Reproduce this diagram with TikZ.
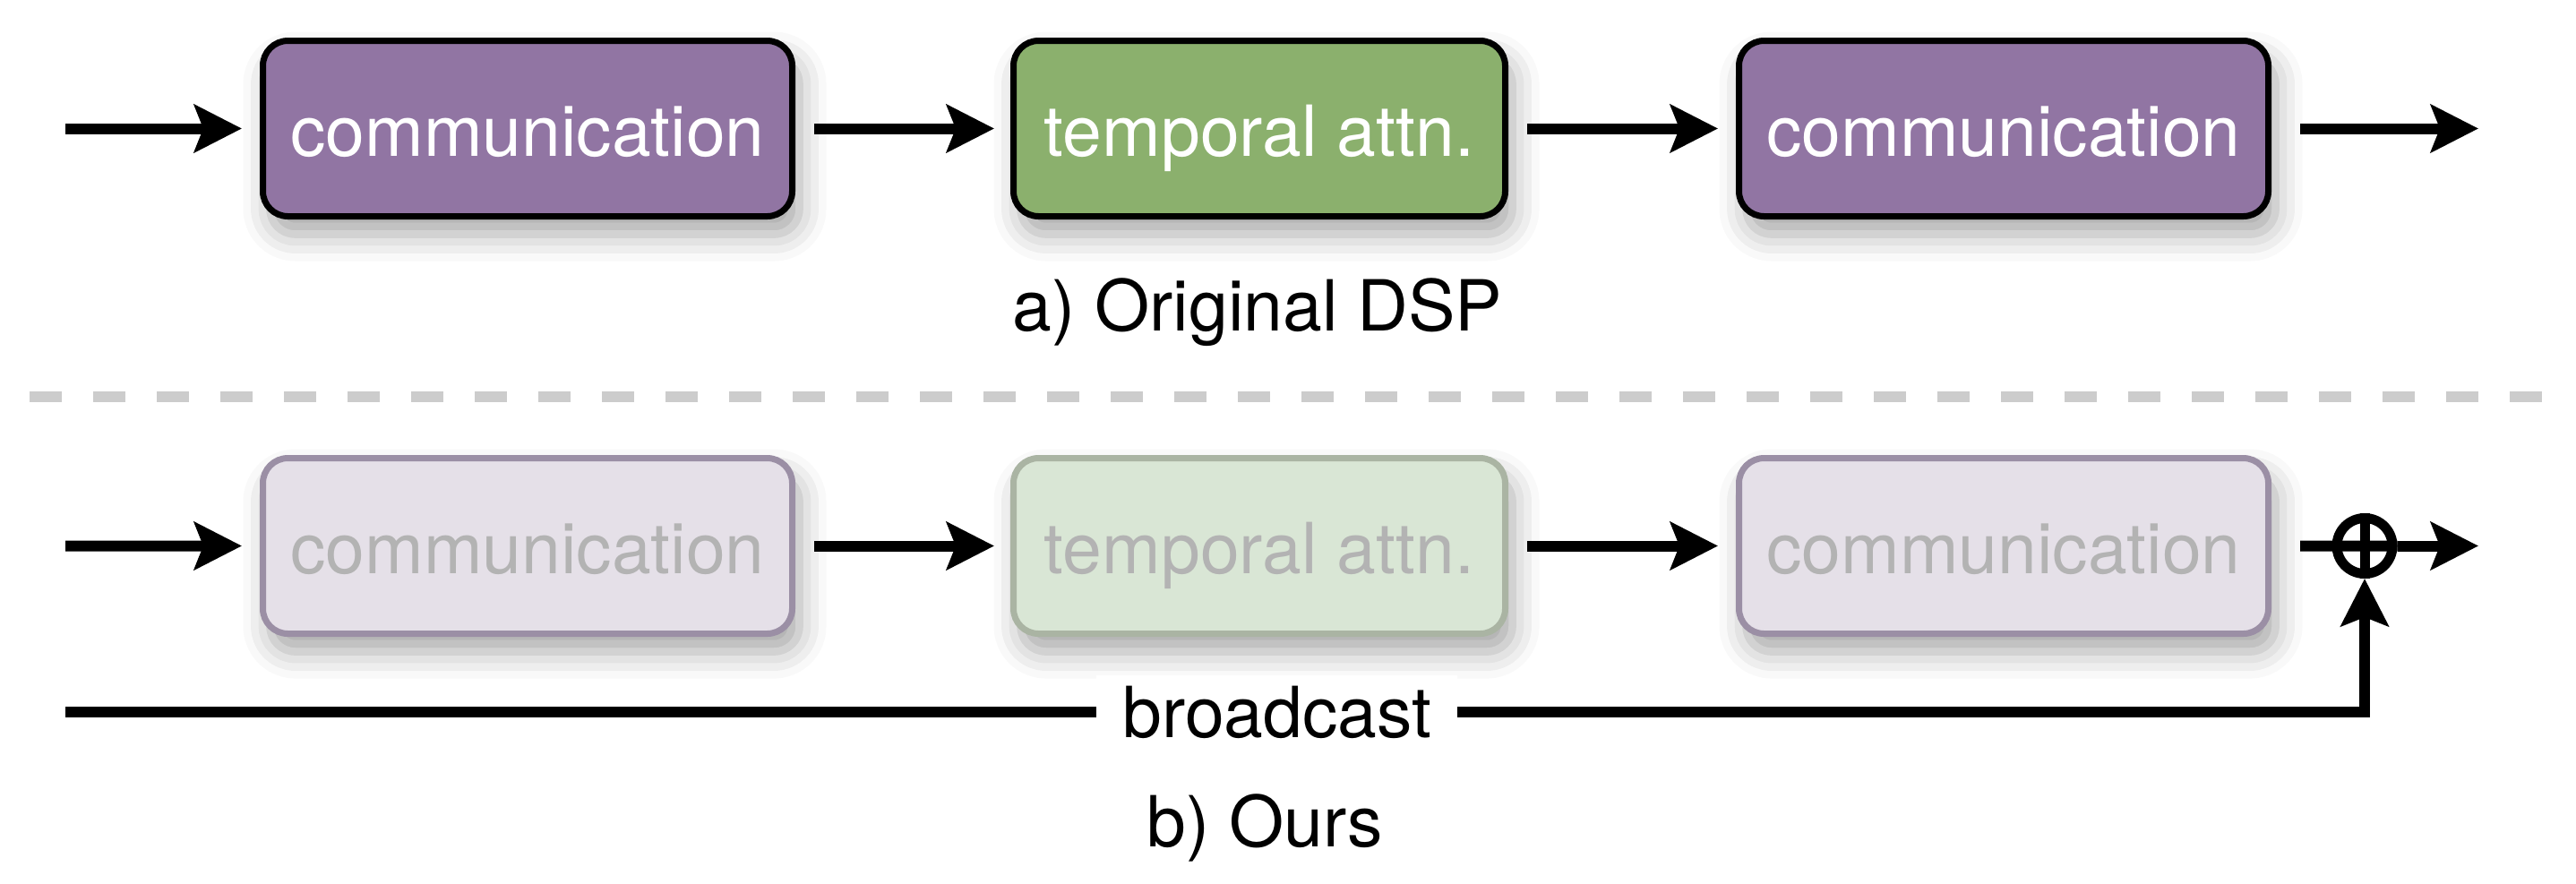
\documentclass[tikz,border=0pt]{standalone}
\usepackage{fontspec}
\setmainfont{TeX Gyre Heros}
\usepackage{tikz}
\usetikzlibrary{positioning, arrows.meta, shadows.blur}

\definecolor{commpurple}{HTML}{9175A3}
\definecolor{attngreen}{HTML}{8BB06D}
\definecolor{fadepurple}{HTML}{E5E0E8}
\definecolor{fadepurpleline}{HTML}{9B8FA5}
\definecolor{fadegreen}{HTML}{D9E6D5}
\definecolor{fadegreenline}{HTML}{AAB4A3}
\definecolor{fadetext}{HTML}{B3B3B3}
\definecolor{dashgray}{HTML}{CCCCCC}

\begin{document}
\begin{tikzpicture}[
    font=\fontsize{22.4pt}{27pt}\selectfont,
    blocknode/.style={rectangle, rounded corners=0.28cm, line width=0.07cm, minimum height=1.96cm, inner sep=0pt, text height=0.62cm, text depth=0pt, blur shadow={shadow xshift=0.08cm, shadow yshift=-0.2cm, shadow blur radius=0.3cm, shadow opacity=35}},
    commnode/.style={blocknode, draw=black, fill=commpurple, text=white, minimum width=5.91cm},
    attnnode/.style={blocknode, draw=black, fill=attngreen, text=white, minimum width=5.49cm},
    fadecomm/.style={blocknode, draw=fadepurpleline, fill=fadepurple, text=fadetext, minimum width=5.91cm},
    fadeattn/.style={blocknode, draw=fadegreenline, fill=fadegreen, text=fadetext, minimum width=5.49cm},
    lnk/.style={line width=0.12cm},
    arr/.style={lnk, -{Stealth[length=0.53cm, width=0.53cm, inset=0.1cm]}},
]
\useasboundingbox (0,0) rectangle (28.76,-9.86);

% a) original
\node[commnode](t1) at (5.89,-1.435){communication};
\node[attnnode](t2)[right = 2.40cm of t1]{temporal attn.};
\node[commnode](t3)[right = 2.54cm of t2]{communication};
\node[anchor=base](la) at (14.04,-3.69){a) Original DSP};

\coordinate (tin) at (0.73,-1.435);
\coordinate (tout) at (27.67,-1.435);
\draw[arr, shorten >=0.2cm] (tin) -- (t1);
\draw[arr, shorten <=0.21cm, shorten >=0.18cm] (t1) -- (t2);
\draw[arr, shorten <=0.21cm, shorten >=0.2cm] (t2) -- (t3);
\draw[arr, shorten <=0.32cm] (t3) -- (tout);

\draw[line width=0.12cm, dashgray, dash pattern=on 0.36cm off 0.35cm] (0.33,-4.43) -- (28.38,-4.43);

% b) ours
\node[fadecomm](b1)[below = 2.63cm of t1]{communication};
\node[fadeattn](b2)[below = 2.63cm of t2]{temporal attn.};
\node[fadecomm](b3)[below = 2.63cm of t3]{communication};
\node[circle, draw, line width=0.11cm, minimum size=0.62cm, inner sep=0pt](plus) at (26.40,-6.095){};
\draw[line width=0.11cm] (plus.north) -- (plus.south);
\node[anchor=base](lb) at (14.12,-9.45){b) Ours};

\coordinate (bin) at (0.73,-6.095);
\coordinate (bout) at (27.67,-6.095);
\coordinate (cast) at (0.73,-7.95);
\draw[arr, shorten >=0.2cm] (bin) -- (b1);
\draw[arr, shorten <=0.21cm, shorten >=0.18cm] (b1) -- (b2);
\draw[arr, shorten <=0.21cm, shorten >=0.2cm] (b2) -- (b3);
\draw[lnk, shorten <=0.32cm] (b3) -- (plus.east);
\draw[arr] (plus) -- (bout);
\draw[arr] (cast) -- (cast -| plus) node[pos=0.527, fill=white, inner xsep=0.29cm]{broadcast} -- (plus);
\end{tikzpicture}
\end{document}
